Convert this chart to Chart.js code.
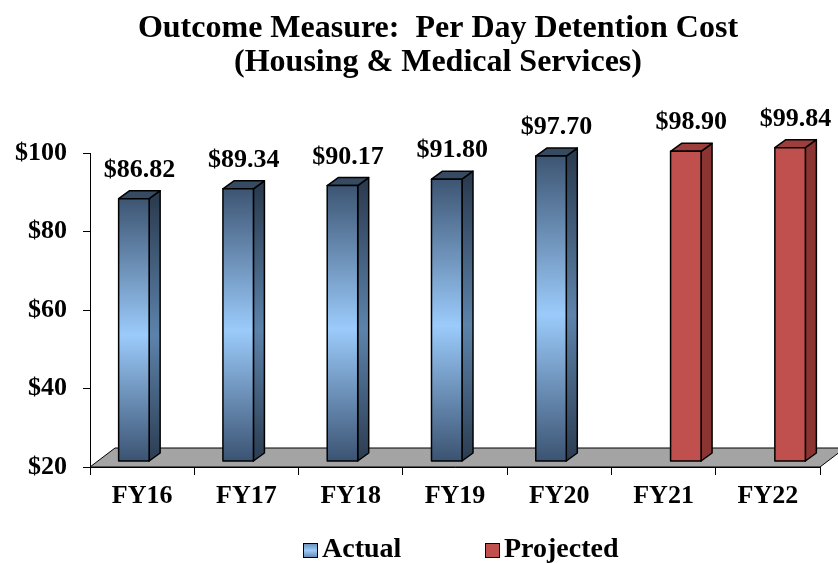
<!DOCTYPE html>
<html>
<head>
<meta charset="utf-8">
<script src="https://cdn.jsdelivr.net/npm/chart.js@4.4.0/dist/chart.umd.min.js"></script>
<style>
  html, body { margin: 0; padding: 0; background: #fff; }
  #wrap { width: 838px; height: 563px; }
</style>
</head>
<body>
<div id="wrap"><canvas id="chart" width="838" height="563"></canvas></div>
<script>
const categories = ['FY16', 'FY17', 'FY18', 'FY19', 'FY20', 'FY21', 'FY22'];
const actual = [86.82, 89.34, 90.17, 91.80, 97.70, null, null];
const projected = [null, null, null, null, null, 98.90, 99.84];
const titleLines = ['Outcome Measure:  Per Day Detention Cost', '(Housing & Medical Services)'];
const yMin = 20, yMax = 100, yStep = 20;

const serif = '"Liberation Serif", "Times New Roman", serif';

// 3d look
const barShift = { x: 7, y: -6 };
const barDepth = { x: 11, y: 8 };
const floorDepth = { x: 25, y: 19 };

function blueFront(ctx, top, bottom) {
  const g = ctx.createLinearGradient(0, top, 0, bottom);
  g.addColorStop(0, '#3d5573');
  g.addColorStop(0.52, '#9bcbfb');
  g.addColorStop(1, '#3b5372');
  return g;
}
function blueSide(ctx, top, bottom) {
  const g = ctx.createLinearGradient(0, top, 0, bottom);
  g.addColorStop(0, '#2b3c50');
  g.addColorStop(0.52, '#5d83ab');
  g.addColorStop(1, '#2b3c50');
  return g;
}

const styles = [
  { front: blueFront, side: blueSide, top: () => '#364a61' },
  { front: () => '#c0504d', side: () => '#8a3532', top: () => '#9c3f3c' }
];

const floorPlugin = {
  id: 'floor',
  beforeDatasetsDraw(chart) {
    const { ctx, chartArea: a } = chart;
    ctx.save();
    ctx.beginPath();
    ctx.moveTo(a.left, a.bottom);
    ctx.lineTo(a.left + floorDepth.x, a.bottom - floorDepth.y);
    ctx.lineTo(a.right + floorDepth.x, a.bottom - floorDepth.y);
    ctx.lineTo(a.right, a.bottom);
    ctx.closePath();
    ctx.fillStyle = '#a4a4a4';
    ctx.fill();
    ctx.lineWidth = 1;
    ctx.strokeStyle = '#000';
    ctx.stroke();
    ctx.restore();
  }
};

const bars3d = {
  id: 'bars3d',
  afterDatasetsDraw(chart) {
    const ctx = chart.ctx;
    const yScale = chart.scales.y;
    const basePx = yScale.getPixelForValue(yScale.min);
    ctx.save();
    chart.data.datasets.forEach((ds, di) => {
      const meta = chart.getDatasetMeta(di);
      const st = styles[di];
      meta.data.forEach((el, i) => {
        const v = ds.data[i];
        if (v === null || v === undefined) return;
        const x0 = el.x - el.width / 2 + barShift.x;
        const x1 = el.x + el.width / 2 + barShift.x;
        const yt = el.y + barShift.y;
        const yb = basePx + barShift.y;
        const dx = barDepth.x, dy = barDepth.y;
        ctx.lineWidth = 1.5;
        ctx.strokeStyle = '#000';
        ctx.lineJoin = 'round';
        // side
        ctx.beginPath();
        ctx.moveTo(x1, yt);
        ctx.lineTo(x1 + dx, yt - dy);
        ctx.lineTo(x1 + dx, yb - dy);
        ctx.lineTo(x1, yb);
        ctx.closePath();
        ctx.fillStyle = st.side(ctx, yt, yb);
        ctx.fill();
        ctx.stroke();
        // top
        ctx.beginPath();
        ctx.moveTo(x0, yt);
        ctx.lineTo(x0 + dx, yt - dy);
        ctx.lineTo(x1 + dx, yt - dy);
        ctx.lineTo(x1, yt);
        ctx.closePath();
        ctx.fillStyle = st.top(ctx, yt, yb);
        ctx.fill();
        ctx.stroke();
        // front
        ctx.beginPath();
        ctx.rect(x0, yt, x1 - x0, yb - yt);
        ctx.fillStyle = st.front(ctx, yt, yb);
        ctx.fill();
        ctx.stroke();
        // value label
        ctx.fillStyle = '#000';
        ctx.font = 'bold 26px ' + serif;
        ctx.textAlign = 'center';
        ctx.textBaseline = 'alphabetic';
        ctx.fillText('$' + v.toFixed(2), (x0 + x1 + dx) / 2, yt - dy - 14);
      });
    });
    ctx.restore();
  }
};

const titleLegend = {
  id: 'titleLegend',
  afterDraw(chart) {
    const ctx = chart.ctx;
    ctx.save();
    ctx.fillStyle = '#000';
    ctx.font = 'bold 32px ' + serif;
    ctx.textAlign = 'center';
    ctx.textBaseline = 'alphabetic';
    ctx.fillText(titleLines[0], 438, 37);
    ctx.fillText(titleLines[1], 438, 71);

    // legend
    const items = [
      { label: chart.data.datasets[0].label, x: 303, st: styles[0] },
      { label: chart.data.datasets[1].label, x: 485, st: styles[1] }
    ];
    const by = 543, bs = 14;
    ctx.font = 'bold 28px ' + serif;
    ctx.textAlign = 'left';
    items.forEach(it => {
      ctx.fillStyle = it.st.front(ctx, by - 6, by + bs + 6);
      ctx.fillRect(it.x, by, bs, bs);
      ctx.lineWidth = 1;
      ctx.strokeStyle = '#000';
      ctx.strokeRect(it.x + 0.5, by + 0.5, bs, bs);
      ctx.fillStyle = '#000';
      ctx.fillText(it.label, it.x + bs + 5, 557);
    });
    ctx.restore();
  }
};

new Chart(document.getElementById('chart'), {
  type: 'bar',
  data: {
    labels: categories,
    datasets: [
      { label: 'Actual', data: actual, backgroundColor: 'rgba(0,0,0,0)', borderWidth: 0 },
      { label: 'Projected', data: projected, backgroundColor: 'rgba(0,0,0,0)', borderWidth: 0 }
    ]
  },
  options: {
    responsive: false,
    animation: false,
    events: [],
    layout: { padding: { top: 153, right: 18, bottom: 0, left: 0 } },
    datasets: { bar: { categoryPercentage: 0.585, barPercentage: 1.0 } },
    plugins: {
      legend: { display: false },
      title: { display: false },
      tooltip: { enabled: false }
    },
    scales: {
      x: {
        afterFit(scale) { scale.height = 96; },
        grid: {
          display: true, offset: true, drawOnChartArea: false,
          tickLength: 8, color: '#000', lineWidth: 1
        },
        border: { display: true, color: '#000', width: 1 },
        ticks: {
          color: '#000', padding: 6,
          font: { family: serif, size: 26, weight: 'bold' }
        }
      },
      y: {
        min: yMin, max: yMax,
        afterFit(scale) { scale.width = 90; },
        grid: {
          display: true, drawOnChartArea: false,
          tickLength: 7, color: '#000', lineWidth: 1
        },
        border: { display: true, color: '#000', width: 1 },
        ticks: {
          stepSize: yStep, color: '#000', padding: 16,
          font: { family: serif, size: 26, weight: 'bold' },
          callback: v => '$' + v
        }
      }
    }
  },
  plugins: [floorPlugin, bars3d, titleLegend]
});
</script>
</body>
</html>
